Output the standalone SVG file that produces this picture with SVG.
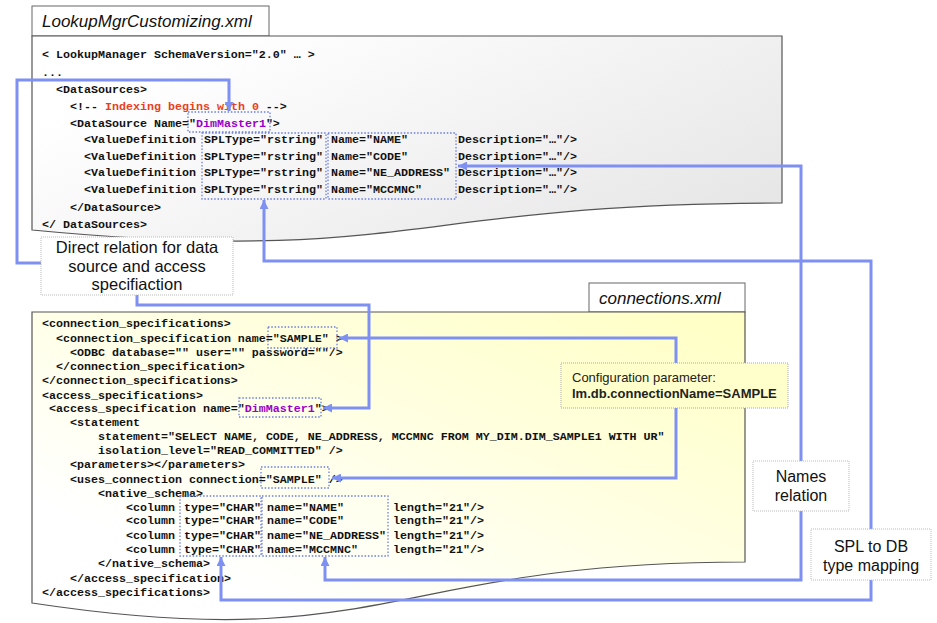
<svg xmlns="http://www.w3.org/2000/svg" width="937" height="623" viewBox="0 0 937 623">
<style>
.code{font-family:"Liberation Mono","DejaVu Sans Mono",monospace;font-weight:bold;font-size:11.67px;fill:#111}
.red{fill:#e8401c}
.pur{fill:#9b00c8}
.tab{fill:#fff;stroke:#666;stroke-width:1}
.tabt{font-family:"Liberation Sans",Arial,sans-serif;font-style:italic;font-size:17px;fill:#111}
.doc{stroke:#555;stroke-width:1.2}
.dot{fill:none;stroke:#6b7de0;stroke-width:1.3;stroke-dasharray:1.5 1.8}
.conn{fill:none;stroke:#7f90f3;stroke-width:3;marker-end:url(#ah)}
.lbl{fill:#fff;stroke:#bbb;stroke-width:1;stroke-dasharray:1 1}
.lblt{font-family:"Liberation Sans",Arial,sans-serif;font-size:16px;fill:#111;text-anchor:middle}
.cfg{fill:#ffffcc;stroke:#aaa;stroke-width:1;stroke-dasharray:1 1}
.cfgt{font-family:"Liberation Sans",Arial,sans-serif;font-size:13px;fill:#222}
</style>
<defs>
<linearGradient id="g1" x1="0" y1="0.2" x2="1" y2="0.8">
<stop offset="0.1" stop-color="#ffffff"/>
<stop offset="1" stop-color="#e6e6e6"/>
</linearGradient>
<linearGradient id="g2" x1="0" y1="1" x2="1" y2="0">
<stop offset="0.2" stop-color="#ffffff"/>
<stop offset="1" stop-color="#ffffc4"/>
</linearGradient>
<marker id="ah" viewBox="0 0 10 10" refX="10" refY="5" markerWidth="9" markerHeight="9" markerUnits="userSpaceOnUse" orient="auto">
<path d="M0,0 L10,5 L0,10 z" fill="#7f90f3"/>
</marker>
</defs>

<g id="lookup-doc">
<rect class="tab" x="32" y="6" width="237" height="30"/>
<text class="tabt" x="42" y="27">LookupMgrCustomizing.xml</text>
<path class="doc" fill="url(#g1)" d="M32,36 H782 V203 C407,203 407,266 32,230 Z"/>
<text class="code" x="42" y="58">&lt; LookupManager SchemaVersion="2.0" … &gt;</text>
<text class="code" x="42" y="76">...</text>
<text class="code" x="56" y="93">&lt;DataSources&gt;</text>
<text class="code" x="70" y="110">&lt;!-- <tspan class="red">Indexing begins with 0</tspan> --&gt;</text>
<text class="code" x="70" y="127">&lt;DataSource Name="<tspan class="pur">DimMaster1</tspan>"&gt;</text>
<text class="code" y="143"><tspan x="84">&lt;ValueDefinition</tspan><tspan x="204">SPLType="rstring"</tspan><tspan x="331">Name="NAME"</tspan><tspan x="458">Description="…"/&gt;</tspan></text>
<text class="code" y="160"><tspan x="84">&lt;ValueDefinition</tspan><tspan x="204">SPLType="rstring"</tspan><tspan x="331">Name="CODE"</tspan><tspan x="458">Description="…"/&gt;</tspan></text>
<text class="code" y="176"><tspan x="84">&lt;ValueDefinition</tspan><tspan x="204">SPLType="rstring"</tspan><tspan x="331">Name="NE_ADDRESS"</tspan><tspan x="458">Description="…"/&gt;</tspan></text>
<text class="code" y="193"><tspan x="84">&lt;ValueDefinition</tspan><tspan x="204">SPLType="rstring"</tspan><tspan x="331">Name="MCCMNC"</tspan><tspan x="458">Description="…"/&gt;</tspan></text>
<text class="code" x="70" y="211">&lt;/DataSource&gt;</text>
<text class="code" x="42" y="228">&lt;/ DataSources&gt;</text>
<rect class="dot" x="188" y="112" width="82" height="20"/>
<rect class="dot" x="202" y="133" width="124" height="66"/>
<rect class="dot" x="328" y="133" width="128" height="66"/>
</g>

<g id="connections-doc">
<rect class="tab" x="589" y="283" width="156" height="29"/>
<text class="tabt" x="599" y="304">connections.xml</text>
<path class="doc" fill="url(#g2)" d="M32,312 H745 V562 C388,562 388,657 32,603 Z"/>
<text class="code" x="42" y="327">&lt;connection_specifications&gt;</text>
<text class="code" x="56" y="342">&lt;connection_specification name="SAMPLE" &gt;</text>
<text class="code" x="70" y="356">&lt;ODBC database="" user="" password=""/&gt;</text>
<text class="code" x="56" y="370">&lt;/connection_specification&gt;</text>
<text class="code" x="42" y="384">&lt;/connection_specifications&gt;</text>
<text class="code" x="42" y="399">&lt;access_specifications&gt;</text>
<text class="code" x="49" y="412">&lt;access_specification name="<tspan class="pur">DimMaster1</tspan>"&gt;</text>
<text class="code" x="70" y="426">&lt;statement</text>
<text class="code" x="98" y="440">statement="SELECT NAME, CODE, NE_ADDRESS, MCCMNC FROM MY_DIM.DIM_SAMPLE1 WITH UR"</text>
<text class="code" x="98" y="454">isolation_level="READ_COMMITTED" /&gt;</text>
<text class="code" x="70" y="468">&lt;parameters&gt;&lt;/parameters&gt;</text>
<text class="code" x="70" y="483">&lt;uses_connection connection="SAMPLE" /&gt;</text>
<text class="code" x="98" y="497">&lt;native_schema&gt;</text>
<text class="code" y="511"><tspan x="126">&lt;column</tspan><tspan x="184">type="CHAR"</tspan><tspan x="267">name="NAME"</tspan><tspan x="393">length="21"/&gt;</tspan></text>
<text class="code" y="524"><tspan x="126">&lt;column</tspan><tspan x="184">type="CHAR"</tspan><tspan x="267">name="CODE"</tspan><tspan x="393">length="21"/&gt;</tspan></text>
<text class="code" y="539"><tspan x="126">&lt;column</tspan><tspan x="184">type="CHAR"</tspan><tspan x="267">name="NE_ADDRESS"</tspan><tspan x="393">length="21"/&gt;</tspan></text>
<text class="code" y="553"><tspan x="126">&lt;column</tspan><tspan x="184">type="CHAR"</tspan><tspan x="267">name="MCCMNC"</tspan><tspan x="393">length="21"/&gt;</tspan></text>
<text class="code" x="98" y="567">&lt;/native_schema&gt;</text>
<text class="code" x="70" y="582">&lt;/access_specification&gt;</text>
<text class="code" x="42" y="596">&lt;/access_specifications&gt;</text>
<rect class="dot" x="268" y="327" width="69" height="21"/>
<rect class="dot" x="239" y="398" width="82" height="19"/>
<rect class="dot" x="261" y="467" width="68" height="21"/>
<rect class="dot" x="180" y="496" width="81" height="60"/>
<rect class="dot" x="262" y="496" width="126" height="60"/>
</g>

<g id="connectors">
<path class="conn" d="M41,263 H17 V80 H229 V111"/>
<path class="conn" d="M137,295 V305 H369 V408 H323"/>
<path class="conn" d="M801,461 V166 H458"/>
<path class="conn" d="M801,511 V580 H325 V557"/>
<path class="conn" d="M871,529 V261 H264 V200"/>
<path class="conn" d="M871,580 V600 H221 V557"/>
<path class="conn" d="M676,363 V338 H339"/>
<path class="conn" d="M676,408 V478 H332"/>
</g>

<g id="direct-relation">
<rect class="lbl" x="41" y="237" width="192" height="58"/>
<text class="lblt" x="137" y="253" style="font-size:16.5px">Direct relation for data</text>
<text class="lblt" x="137" y="272" style="font-size:16.5px">source and access</text>
<text class="lblt" x="137" y="290" style="font-size:16.5px">specifiaction</text>
</g>

<g id="config-param">
<rect class="cfg" x="561" y="363" width="227" height="45"/>
<text class="cfgt" x="572" y="382">Configuration parameter:</text>
<text class="cfgt" x="572" y="398" font-weight="bold">lm.db.connectionName=SAMPLE</text>
</g>

<g id="names-relation">
<rect class="lbl" x="753" y="461" width="96" height="50"/>
<text class="lblt" x="801" y="482">Names</text>
<text class="lblt" x="801" y="501">relation</text>
</g>

<g id="spl-mapping">
<rect class="lbl" x="811" y="529" width="120" height="51"/>
<text class="lblt" x="871" y="552">SPL to DB</text>
<text class="lblt" x="871" y="571">type mapping</text>
</g>
</svg>
